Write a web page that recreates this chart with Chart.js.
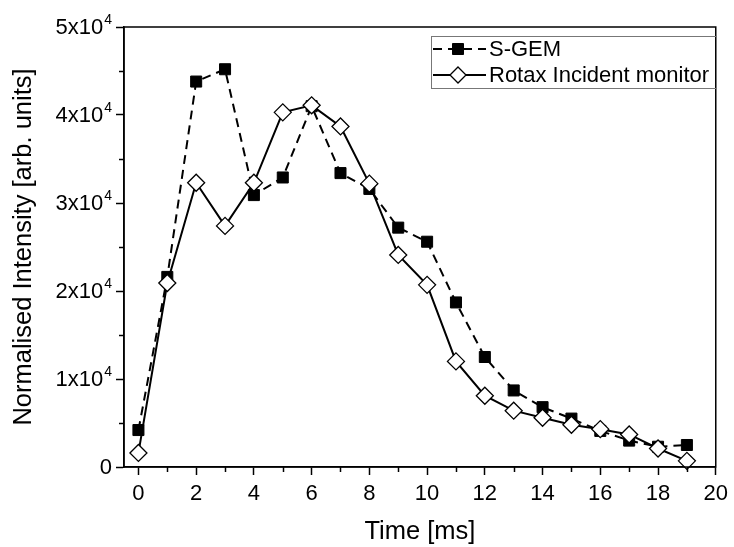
<!DOCTYPE html>
<html><head><meta charset="utf-8">
<script src="https://cdn.jsdelivr.net/npm/chart.js@4"></script>
<style>html,body{margin:0;padding:0;background:#fff}</style>
</head><body>
<canvas id="c" width="734" height="547"></canvas>
<script>
const timeMs = [0,1,2,3,4,5,6,7,8,9,10,11,12,13,14,15,16,17,18,19];
const sgem  = [4200,21600,43800,45200,30900,32900,41000,33400,31600,27200,25600,18700,12500,8700,6800,5500,4100,3000,2300,2500];
const rotax = [1600,20900,32300,27400,32300,40300,41100,38700,32200,24100,20700,12000,8100,6400,5600,4800,4300,3700,2100,700];
const seriesNames = ['S-GEM','Rotax Incident monitor'];
const xMajorTicks = [0,2,4,6,8,10,12,14,16,18,20];
const xMinorTicks = [1,3,5,7,9,11,13,15,17,19];
const yTickValues = [0,10000,20000,30000,40000,50000];
const yTickMantissa = ['0','1x10','2x10','3x10','4x10','5x10'];
const yTickExponent = ['','4','4','4','4','4'];
const yMinorTicks = [5000,15000,25000,35000,45000];
const xTitle = 'Time [ms]';
const yTitle = 'Normalised Intensity [arb. units]';

const FONT = 'Liberation Sans, Arial, sans-serif';

const framePlugin = {
  id: 'frame',
  afterDraw(chart) {
    const ctx = chart.ctx, a = chart.chartArea;
    const xs = chart.scales.x, ys = chart.scales.y;
    ctx.save();
    ctx.strokeStyle = '#000';
    ctx.lineWidth = 1.5;
    ctx.strokeRect(a.left, a.top, a.right - a.left, a.bottom - a.top);
    for (const v of xMinorTicks) {
      const px = Math.round(xs.getPixelForValue(v)) + 0.5;
      ctx.beginPath(); ctx.moveTo(px, a.bottom); ctx.lineTo(px, a.bottom + 5); ctx.stroke();
    }
    for (const v of yMinorTicks) {
      const py = Math.round(ys.getPixelForValue(v)) + 0.5;
      ctx.beginPath(); ctx.moveTo(a.left, py); ctx.lineTo(a.left - 5, py); ctx.stroke();
    }
    // y tick labels with superscript exponent
    ctx.fillStyle = '#000';
    yTickValues.forEach((v, i) => {
      const py = ys.getPixelForValue(v);
      const right = a.left - 12;
      let mRight = right;
      if (yTickExponent[i]) {
        ctx.font = '14px ' + FONT;
        ctx.textAlign = 'right';
        ctx.textBaseline = 'alphabetic';
        ctx.fillText(yTickExponent[i], right, py - 3);
        mRight = right - ctx.measureText(yTickExponent[i]).width - 1;
      }
      ctx.font = '22px ' + FONT;
      ctx.textAlign = 'right';
      ctx.textBaseline = 'middle';
      ctx.fillText(yTickMantissa[i], mRight, py + 1);
    });
    // legend
    const bx = 431.5, by = 36.5, bw = 285, bh = 52;
    ctx.lineWidth = 1;
    ctx.strokeStyle = '#777';
    ctx.strokeRect(bx, by, bw, bh);
    ctx.font = '22px ' + FONT;
    ctx.fillStyle = '#000';
    ctx.textBaseline = 'middle';
    ctx.textAlign = 'left';
    const rows = [49, 75];
    chart.data.datasets.forEach((ds, i) => {
      const y = rows[i];
      ctx.strokeStyle = '#000';
      ctx.lineWidth = 2;
      ctx.setLineDash(ds.borderDash || []);
      ctx.beginPath(); ctx.moveTo(433, y); ctx.lineTo(486, y); ctx.stroke();
      ctx.setLineDash([]);
      const cx = 458;
      ctx.lineWidth = ds.pointBorderWidth;
      ctx.fillStyle = ds.pointBackgroundColor;
      ctx.strokeStyle = ds.pointBorderColor;
      ctx.beginPath();
      if (ds.pointStyle === 'rect') {
        const s = 5.5;
        ctx.rect(cx - s, y - s, 2 * s, 2 * s);
      } else {
        const r = 8;
        ctx.moveTo(cx, y - r); ctx.lineTo(cx + r, y); ctx.lineTo(cx, y + r); ctx.lineTo(cx - r, y); ctx.closePath();
      }
      ctx.fill(); ctx.stroke();
      ctx.fillStyle = '#000';
      ctx.fillText(ds.label, 489, y + 1);
    });
    ctx.restore();
  }
};

new Chart(document.getElementById('c'), {
  type: 'line',
  data: {
    datasets: [
      {
        label: seriesNames[0],
        data: timeMs.map((t, i) => ({x: t, y: sgem[i]})),
        borderColor: '#000', borderWidth: 2, borderDash: [9, 6],
        pointStyle: 'rect', pointRadius: 7.8,
        pointBackgroundColor: '#000', pointBorderColor: '#000', pointBorderWidth: 1,
        tension: 0, order: 1, clip: false
      },
      {
        label: seriesNames[1],
        data: timeMs.map((t, i) => ({x: t, y: rotax[i]})),
        borderColor: '#000', borderWidth: 2,
        pointStyle: 'rectRot', pointRadius: 8.5,
        pointBackgroundColor: '#fff', pointBorderColor: '#000', pointBorderWidth: 1.3,
        tension: 0, order: 0, clip: false
      }
    ]
  },
  options: {
    responsive: false, animation: false, devicePixelRatio: 1,
    layout: {padding: {top: 27, right: 15, left: 0, bottom: 0}},
    plugins: {legend: {display: false}, tooltip: {enabled: false}},
    scales: {
      x: {
        type: 'linear', min: -0.5, max: 20,
        afterBuildTicks: s => { s.ticks = xMajorTicks.map(v => ({value: v})); },
        afterFit: s => { s.height = 80; },
        ticks: {font: {family: FONT, size: 22}, color: '#000', padding: 6, maxRotation: 0, autoSkip: false},
        grid: {drawOnChartArea: false, tickLength: 8, tickColor: '#000', tickWidth: 1.5},
        border: {color: '#000', width: 1.5},
        title: {display: true, text: xTitle, font: {family: FONT, size: 25.5}, color: '#000', padding: {top: 0, bottom: 0}}
      },
      y: {
        type: 'linear', min: 0, max: 50000,
        afterBuildTicks: s => { s.ticks = yTickValues.map(v => ({value: v})); },
        afterFit: s => { s.width = 124; },
        ticks: {display: false},
        grid: {drawOnChartArea: false, tickLength: 8, tickColor: '#000', tickWidth: 1.5},
        border: {color: '#000', width: 1.5},
        title: {display: true, text: yTitle, font: {family: FONT, size: 25.5}, color: '#000', padding: {top: 9, bottom: 0}}
      }
    }
  },
  plugins: [framePlugin]
});
</script>
</body></html>
